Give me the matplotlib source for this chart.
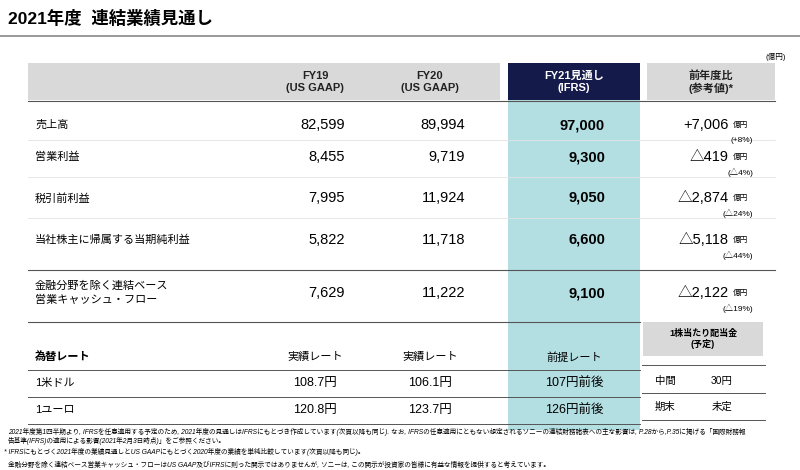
import matplotlib
matplotlib.use("Agg")
import matplotlib.pyplot as plt
from matplotlib.patches import Rectangle

plt.rcParams["font.family"] = ["Liberation Sans", "Noto Sans CJK JP"]

items = ["売上高", "営業利益", "税引前利益", "当社株主に帰属する当期純利益", "金融分野を除く連結ベース\n営業キャッシュ・フロー"]
fy19 = [82599, 8455, 7995, 5822, 7629]
fy20 = [89994, 9719, 11924, 11718, 11222]
fy21 = [97000, 9300, 9050, 6600, 9100]
diff = ["+7,006", "△419", "△2,874", "△5,118", "△2,122"]
pct = ["(+8%)", "(△4%)", "(△24%)", "(△44%)", "(△19%)"]
headers = ["FY19\n(US GAAP)", "FY20\n(US GAAP)", "FY21見通し\n(IFRS)", "前年度比\n(参考値)*"]
fx_labels = ["1米ドル", "1ユーロ"]
fx19 = ["108.7円", "120.8円"]
fx20 = ["106.1円", "123.7円"]
fx21 = ["107円前後", "126円前後"]
div_labels = ["中間", "期末"]
div_vals = ["30円", "未定"]

fig = plt.figure(figsize=(8, 4.7), dpi=100)
ax = fig.add_axes([0, 0, 1, 1])
ax.set_xlim(0, 800); ax.set_ylim(470, 0); ax.axis("off")

navy = "#141a4a"; teal = "#b3dfe3"; gray = "#d9d9d9"
ax.text(8, 18, "2021年度  連結業績見通し", fontsize=12.5, weight="bold", va="center")
ax.plot([0, 800], [36, 36], color="#888", lw=1.2)
ax.text(786, 57, "(億円)", fontsize=5.5, ha="right", va="center")

ax.add_patch(Rectangle((28, 63), 472, 37, color=gray, lw=0))
ax.add_patch(Rectangle((508, 63), 132, 37, color=navy, lw=0))
ax.add_patch(Rectangle((647, 63), 128, 37, color=gray, lw=0))
ax.add_patch(Rectangle((508, 100), 132, 330, color=teal, lw=0))
xs = [315, 430, 574, 711]
for i, h in enumerate(headers):
    ax.text(xs[i], 82, h, fontsize=8, weight="bold", ha="center", va="center",
            color="white" if i == 2 else "#222", linespacing=1.2)

rows_y = [125, 157, 198, 240, 293]
for y, it, a, b, c, d, p in zip(rows_y, items, fy19, fy20, fy21, diff, pct):
    ax.text(35, y, it, fontsize=8, va="center", linespacing=1.4)
    ax.text(345, y, f"{a:,}", fontsize=10.5, ha="right", va="center")
    ax.text(465, y, f"{b:,}", fontsize=10.5, ha="right", va="center")
    ax.text(605, y, f"{c:,}", fontsize=10.5, ha="right", va="center", weight="bold")
    ax.text(729, y, d, fontsize=10.5, ha="right", va="center")
    ax.text(733, y, "億円", fontsize=5.5, ha="left", va="center")
    ax.text(753, y + 15, p, fontsize=6, ha="right", va="center")
for y in [140, 177, 218]:
    ax.plot([28, 775], [y, y], color="#e3e3e3", lw=0.6)
ax.plot([28, 775], [101, 101], color="#555", lw=0.8)
ax.plot([28, 775], [270, 270], color="#555", lw=0.8)
ax.plot([28, 640], [322, 322], color="#555", lw=0.8)

ax.text(35, 357, "為替レート", fontsize=8, weight="bold", va="center")
for x, t in zip(xs[:3], ["実績レート", "実績レート", "前提レート"]):
    ax.text(x, 357, t, fontsize=8, ha="center", va="center")
for y, l, a, b, c in zip([383, 410], fx_labels, fx19, fx20, fx21):
    ax.text(35, y, l, fontsize=8, va="center")
    ax.text(xs[0], y, a, fontsize=9, ha="center", va="center")
    ax.text(xs[1], y, b, fontsize=9, ha="center", va="center")
    ax.text(xs[2], y, c, fontsize=9, ha="center", va="center")
for y in [370, 397, 424]:
    ax.plot([28, 640], [y, y], color="#555", lw=0.7)

ax.add_patch(Rectangle((643, 322), 120, 34, color=gray, lw=0))
ax.text(703, 339, "1株当たり配当金\n(予定)", fontsize=6.5, weight="bold", ha="center", va="center", linespacing=1.2)
for y, l, v in zip([381, 407], div_labels, div_vals):
    ax.text(655, y, l, fontsize=7.5, va="center")
    ax.text(722, y, v, fontsize=7.5, ha="center", va="center")
for y in [365, 393, 420]:
    ax.plot([642, 765], [y, y], color="#555", lw=0.7)

notes = [
    (432, "2021年度第1四半期より, IFRSを任意適用する予定のため, 2021年度の見通しはIFRSにもとづき作成しています(次頁以降も同じ). なお, IFRSの任意適用にともない想定されるソニーの連結財務諸表への主な影響は, P.28から,P.35に掲げる「国際財務報"),
    (441, "告基準(IFRS)の適用による影響(2021年2月3日時点)」をご参照ください。"),
    (452, "* IFRSにもとづく2021年度の業績見通しとUS GAAPにもとづく2020年度の業績を単純比較しています(次頁以降も同じ)。"),
    (465, "金融分野を除く連結ベース営業キャッシュ・フローはUS GAAP及びIFRSに則った開示ではありませんが, ソニーは, この開示が投資家の皆様に有益な情報を提供すると考えています。"),
]
for y, t in notes:
    ax.text(4 if t.startswith("*") else 8, y, t, fontsize=4.8, style="italic", va="center")

fig.savefig("out.png", dpi=100)
